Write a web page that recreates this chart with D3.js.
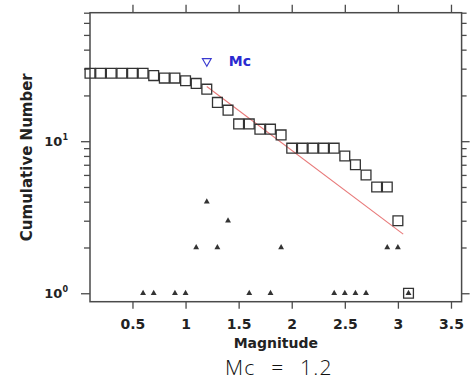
<!DOCTYPE html>
<html>
<head>
<meta charset="utf-8">
<script src="https://cdn.jsdelivr.net/npm/d3@7"></script>
<style>
  html, body { margin: 0; padding: 0; background: #fff; }
  svg { display: block; }
</style>
</head>
<body>
<svg id="chart" width="472" height="392"></svg>
<script>
// Frequency–magnitude distribution (cumulative and per-bin counts)
const magnitudes = [0.1, 0.2, 0.3, 0.4, 0.5, 0.6, 0.7, 0.8, 0.9, 1.0,
                    1.1, 1.2, 1.3, 1.4, 1.5, 1.6, 1.7, 1.8, 1.9, 2.0,
                    2.1, 2.2, 2.3, 2.4, 2.5, 2.6, 2.7, 2.8, 2.9, 3.0, 3.1];
const cumulativeCounts = [28, 28, 28, 28, 28, 28, 27, 26, 26, 25,
                          24, 22, 18, 16, 13, 13, 12, 12, 11, 9,
                          9, 9, 9, 9, 8, 7, 6, 5, 5, 3, 1];

const binMagnitudes = [0.6, 0.7, 0.9, 1.0, 1.1, 1.2, 1.3, 1.4, 1.6, 1.8,
                       1.9, 2.4, 2.5, 2.6, 2.7, 2.9, 3.0, 3.1];
const binCounts = [1, 1, 1, 1, 2, 4, 2, 3, 1, 1,
                   2, 1, 1, 1, 1, 2, 2, 1];

// Magnitude of completeness and Gutenberg–Richter fit log10(N) = a - b*M
const mc = 1.2;
const grA = 1.99;
const grB = 0.525;
const fitRange = [1.2, 3.05];

const xTicks = [0.5, 1, 1.5, 2, 2.5, 3, 3.5];
const xTickLabels = ["0.5", "1", "1.5", "2", "2.5", "3", "3.5"];
const yMajorTicks = [1, 10];
const yMajorExponents = ["0", "1"];
const yMinorTicks = [2, 3, 4, 5, 6, 7, 8, 9, 20, 30, 40, 50, 60, 70];

const xDomain = [0.1, 3.6];
const yDomain = [0.88, 70];

const svg = d3.select("#chart");
const plot = { left: 90, right: 461.6, top: 12.7, bottom: 301.7 };

const x = d3.scaleLinear().domain(xDomain).range([plot.left, plot.right]);
const y = d3.scaleLog().domain(yDomain).range([plot.bottom, plot.top]);

const axisColor = "#4a4a4a";
const textColor = "#222";
const boldFont = "'DejaVu Sans', sans-serif";

// Frame
svg.append("rect")
  .attr("x", plot.left).attr("y", plot.top)
  .attr("width", plot.right - plot.left).attr("height", plot.bottom - plot.top)
  .attr("fill", "none").attr("stroke", axisColor).attr("stroke-width", 1.5);

function styleAxis(g) {
  g.select(".domain").remove();
  g.selectAll(".tick line").attr("stroke", axisColor).attr("stroke-width", 1.3);
}

// Bottom axis with labels
const xAxisBottom = svg.append("g")
  .attr("transform", `translate(0,${plot.bottom})`)
  .call(d3.axisBottom(x).tickValues(xTicks).tickSize(7).tickPadding(10)
        .tickFormat((d, i) => xTickLabels[i]));
styleAxis(xAxisBottom);
xAxisBottom.selectAll(".tick text")
  .attr("font-family", boldFont).attr("font-weight", "bold")
  .attr("font-size", 14).attr("fill", textColor);

// Top axis, ticks only
const xAxisTop = svg.append("g")
  .attr("transform", `translate(0,${plot.top})`)
  .call(d3.axisTop(x).tickValues(xTicks).tickSize(8).tickFormat(""));
styleAxis(xAxisTop);

// Left axis: major and minor ticks
const yAxisLeftMinor = svg.append("g")
  .attr("transform", `translate(${plot.left},0)`)
  .call(d3.axisLeft(y).tickValues(yMinorTicks).tickSize(6).tickFormat(""));
styleAxis(yAxisLeftMinor);
const yAxisLeftMajor = svg.append("g")
  .attr("transform", `translate(${plot.left},0)`)
  .call(d3.axisLeft(y).tickValues(yMajorTicks).tickSize(9).tickFormat(""));
styleAxis(yAxisLeftMajor);

// Right axis: major and minor ticks
const yAxisRightMinor = svg.append("g")
  .attr("transform", `translate(${plot.right},0)`)
  .call(d3.axisRight(y).tickValues(yMinorTicks).tickSize(5).tickFormat(""));
styleAxis(yAxisRightMinor);
const yAxisRightMajor = svg.append("g")
  .attr("transform", `translate(${plot.right},0)`)
  .call(d3.axisRight(y).tickValues(yMajorTicks).tickSize(8).tickFormat(""));
styleAxis(yAxisRightMajor);

// Power-of-ten labels on the left
const yLabels = svg.append("g");
yMajorTicks.forEach((v, i) => {
  const t = yLabels.append("text")
    .attr("x", plot.left - 22)
    .attr("y", y(v) + 5)
    .attr("text-anchor", "end")
    .attr("font-family", boldFont).attr("font-weight", "bold")
    .attr("font-size", 13).attr("fill", textColor);
  t.append("tspan").text("10");
  t.append("tspan").attr("dy", -6).attr("font-size", 8).text(yMajorExponents[i]);
});

// Axis titles
svg.append("text")
  .attr("x", (plot.left + plot.right) / 2)
  .attr("y", 348)
  .attr("text-anchor", "middle")
  .attr("font-family", boldFont).attr("font-weight", "bold")
  .attr("font-size", 14).attr("fill", textColor)
  .text("Magnitude");

svg.append("text")
  .attr("transform", `translate(32,${(plot.top + plot.bottom) / 2}) rotate(-90)`)
  .attr("text-anchor", "middle")
  .attr("font-family", boldFont).attr("font-weight", "bold")
  .attr("font-size", 15).attr("fill", textColor)
  .text("Cumulative Number");

// Gutenberg–Richter fit line
const fitLine = d3.line()
  .x(d => x(d))
  .y(d => y(Math.pow(10, grA - grB * d)));
svg.append("path")
  .datum(fitRange)
  .attr("d", fitLine)
  .attr("fill", "none")
  .attr("stroke", "#e87878")
  .attr("stroke-width", 1.1);

// Per-bin counts (small filled triangles)
const smallTri = d3.symbol().type(d3.symbolTriangle).size(15);
svg.append("g").selectAll("path")
  .data(binMagnitudes.map((m, i) => ({ m, n: binCounts[i] })))
  .join("path")
  .attr("d", smallTri)
  .attr("transform", d => `translate(${x(d.m)},${y(d.n)})`)
  .attr("fill", "#333");

// Cumulative counts (open squares)
const square = d3.symbol().type(d3.symbolSquare).size(96);
svg.append("g").selectAll("path")
  .data(magnitudes.map((m, i) => ({ m, n: cumulativeCounts[i] })))
  .join("path")
  .attr("d", square)
  .attr("transform", d => `translate(${x(d.m)},${y(d.n)})`)
  .attr("fill", "none")
  .attr("stroke", "#333")
  .attr("stroke-width", 1.3);

// Magnitude of completeness marker
const mcY = y(d3.max(cumulativeCounts) * 1.2);
const mcTri = d3.symbol().type(d3.symbolTriangle).size(34);
svg.append("path")
  .attr("d", mcTri)
  .attr("transform", `translate(${x(mc)},${mcY}) rotate(180)`)
  .attr("fill", "none")
  .attr("stroke", "#3a3ad0")
  .attr("stroke-width", 1.1);
svg.append("text")
  .attr("x", x(mc) + 22)
  .attr("y", mcY + 5)
  .attr("font-family", boldFont).attr("font-weight", "bold")
  .attr("font-size", 14).attr("fill", "#2a2ad0")
  .text("Mc");

// Caption
svg.append("text")
  .attr("x", 225)
  .attr("y", 375)
  .attr("font-family", "'Open Sans', 'Noto Sans', sans-serif")
  .attr("font-weight", 300)
  .attr("font-size", 21)
  .attr("word-spacing", 9)
  .attr("letter-spacing", 1.2)
  .attr("fill", "#111")
  .text(`Mc = ${mc}`);
</script>
</body>
</html>
